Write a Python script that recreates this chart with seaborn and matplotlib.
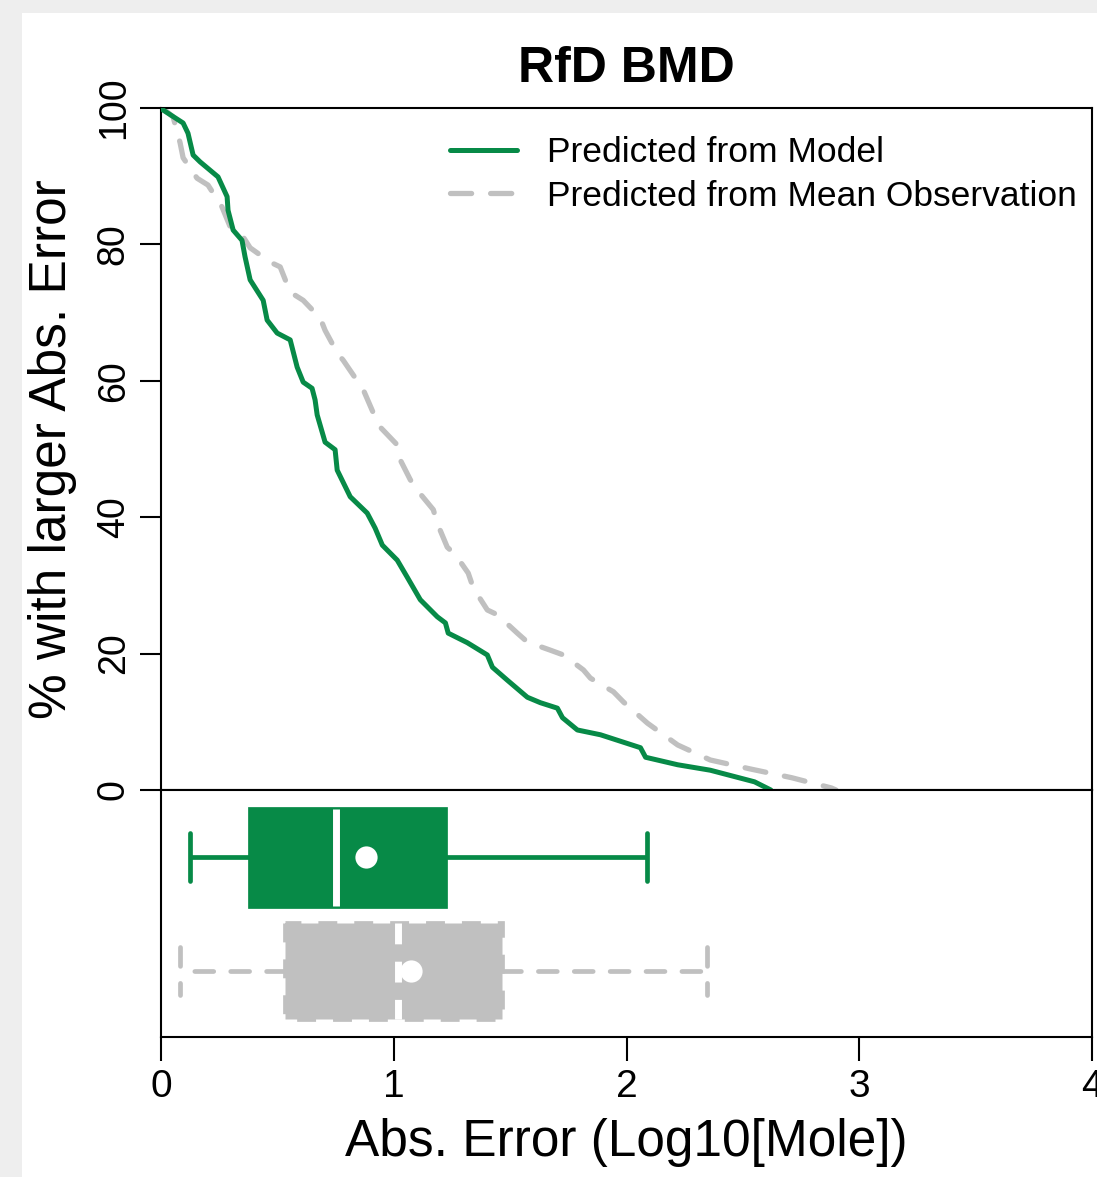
import numpy as np
import pandas as pd
import matplotlib
matplotlib.use("Agg")
import matplotlib.pyplot as plt
from matplotlib.patches import Rectangle
import seaborn as sns

# ---------------- data ----------------
title = "RfD BMD"
series_names = ["Predicted from Model", "Predicted from Mean Observation"]
x_label = "Abs. Error (Log10[Mole])"
y_label = "% with larger Abs. Error"

model_x = [0.0, 0.009, 0.095, 0.116, 0.138, 0.168, 0.245, 0.284, 0.288, 0.310, 0.348,
           0.361, 0.383, 0.439, 0.456, 0.499, 0.555, 0.585, 0.611, 0.649, 0.662,
           0.671, 0.705, 0.748, 0.757, 0.813, 0.886, 0.920, 0.951, 1.015, 1.058,
           1.114, 1.187, 1.222, 1.234, 1.316, 1.402, 1.424, 1.488, 1.574, 1.630,
           1.703, 1.725, 1.789, 1.888, 2.060, 2.082, 2.220, 2.360, 2.550, 2.620]
model_y = [100.0, 99.7, 97.8, 96.3, 93.1, 92.1, 89.9, 87.0, 85.0, 82.1, 80.6,
           78.2, 74.8, 71.8, 68.9, 67.0, 66.0, 62.0, 59.8, 58.9, 57.2,
           55.0, 51.0, 49.9, 46.9, 43.0, 40.6, 38.4, 35.9, 33.7, 31.2,
           27.9, 25.4, 24.5, 23.0, 21.6, 19.8, 18.0, 16.1, 13.6, 12.8,
           12.0, 10.6, 8.8, 8.1, 6.2, 4.8, 3.7, 2.9, 1.2, 0.0]

mean_x = [0.0, 0.017, 0.052, 0.082, 0.095, 0.155, 0.202, 0.262, 0.297, 0.353, 0.383,
          0.469, 0.512, 0.555, 0.611, 0.684, 0.705, 0.757, 0.783, 0.869, 0.912,
          0.942, 1.015, 1.028, 1.071, 1.100, 1.170, 1.187, 1.230, 1.265, 1.320,
          1.342, 1.402, 1.445, 1.531, 1.574, 1.673, 1.729, 1.815, 1.845, 1.944,
          1.987, 2.090, 2.220, 2.360, 2.530, 2.710, 2.880, 2.900]
mean_y = [100.0, 99.7, 98.7, 94.9, 92.7, 89.7, 88.7, 85.5, 82.6, 81.1, 79.5,
          77.4, 76.7, 73.0, 71.8, 69.2, 67.4, 64.1, 63.0, 58.7, 55.3,
          53.2, 50.6, 48.4, 45.5, 44.0, 41.1, 39.1, 35.6, 34.5, 31.8,
          29.6, 26.4, 25.7, 23.0, 21.7, 20.5, 19.8, 17.6, 16.4, 14.4,
          12.9, 9.8, 6.6, 4.4, 3.1, 1.8, 0.3, 0.0]

# five-number summaries: whisker low, Q1, median, Q3, whisker high
model_box = [0.125, 0.383, 0.753, 1.222, 2.086]
mean_box = [0.082, 0.533, 1.019, 1.467, 2.348]
box_means = [0.882, 1.075]

x_ticks = [0, 1, 2, 3, 4]
y_ticks = [0, 20, 40, 60, 80, 100]

GREEN = "#078A47"
GRAY = "#C0C0C0"
DASH = (0, (4, 3.6))

# ---------------- style ----------------
sns.set_theme(style="white")
plt.rcParams["font.family"] = ["Liberation Sans", "DejaVu Sans"]
plt.rcParams["lines.dash_capstyle"] = "round"

W, H = 1097, 1177
fig = plt.figure(figsize=(W / 100, H / 100), dpi=100)
fig.patch.set_facecolor("#eeeeee")
fig.add_artist(Rectangle((22 / W, 0), 1, 1 - 13 / H, transform=fig.transFigure,
                         facecolor="white", edgecolor="none", zorder=-10))

L = 161 / W
AW = 931 / W
ax1 = fig.add_axes([L, 1 - 790 / H, AW, 682 / H])
ax2 = fig.add_axes([L, 1 - 1037 / H, AW, 247 / H])

# ---------------- top panel: curves ----------------
sns.lineplot(x=mean_x, y=mean_y, ax=ax1, color=GRAY, linewidth=3.8,
             linestyle=DASH, estimator=None, sort=False,
             label=series_names[1], zorder=2)
sns.lineplot(x=model_x, y=model_y, ax=ax1, color=GREEN, linewidth=3.6,
             estimator=None, sort=False, label=series_names[0], zorder=3)

handles, labels = ax1.get_legend_handles_labels()
order = [labels.index(n) for n in series_names]
ax1.legend([handles[i] for i in order], [labels[i] for i in order],
           loc="upper left", bbox_to_anchor=((450 - 161) / 931, 1 - (136 - 108) / 682),
           frameon=False, fontsize=25.5, borderpad=0, borderaxespad=0,
           handlelength=1.9, handletextpad=0.84, labelspacing=0.3,
           labelcolor="black")

ax1.set_xlim(0, 4)
ax1.set_ylim(0, 100)
ax1.set_xticks([])
ax1.set_xlabel("")
ax1.set_yticks(y_ticks, labels=[str(v) for v in y_ticks])
for lbl in ax1.get_yticklabels():
    lbl.set_rotation(90)
    lbl.set_va("center")
ax1.tick_params(axis="y", left=True, length=15, width=1.5, pad=6,
                labelsize=27, direction="out", color="black", labelcolor="black")
ax1.set_ylabel(y_label, fontsize=37, color="black")
ax1.yaxis.set_label_coords(-0.090, 0.5)
ax1.set_title(title, fontsize=36, fontweight="bold", pad=19, color="black")

# ---------------- bottom panel: boxplots ----------------
df_box = pd.DataFrame({
    "value": model_box + mean_box,
    "series": [series_names[0]] * len(model_box) + [series_names[1]] * len(mean_box),
})

sns.boxplot(data=df_box[df_box["series"] == series_names[0]], x="value", y="series",
            order=series_names, orient="h", whis=np.inf, width=0.85, ax=ax2,
            color=GREEN, linecolor=GREEN, linewidth=3.4, saturation=1, fill=True,
            medianprops=dict(color="white", linewidth=5))
sns.boxplot(data=df_box[df_box["series"] == series_names[1]], x="value", y="series",
            order=series_names, orient="h", whis=np.inf, width=0.85, ax=ax2,
            color=GRAY, linecolor=GRAY, linewidth=3.4, saturation=1, fill=True,
            boxprops=dict(linestyle=DASH),
            whiskerprops=dict(linestyle=DASH),
            capprops=dict(linestyle=DASH),
            medianprops=dict(color="white", linewidth=5, linestyle=(0, (3, 2.5))))

sns.pointplot(x=box_means, y=series_names, order=series_names, orient="h",
              linestyle="none", color="white", markersize=16, markeredgewidth=0,
              errorbar=None, ax=ax2, zorder=10)

ax2.set_ylim(1.58, -0.59)
ax2.set_yticks([])
ax2.set_ylabel("")
ax2.set_xlim(0, 4)
ax2.set_xticks(x_ticks, labels=[str(v) for v in x_ticks])
ax2.tick_params(axis="x", bottom=True, length=17, width=1.5, pad=6,
                labelsize=28, direction="out", color="black", labelcolor="black")
ax2.set_xlabel(x_label, fontsize=37, color="black", va="top")
ax2.xaxis.set_label_coords(0.5, -(1118 - 1037) / 247)

for ax in (ax1, ax2):
    for sp in ax.spines.values():
        sp.set_visible(True)
        sp.set_color("black")
        sp.set_linewidth(1.5)

fig.savefig("out.png", dpi=100, facecolor=fig.get_facecolor())
